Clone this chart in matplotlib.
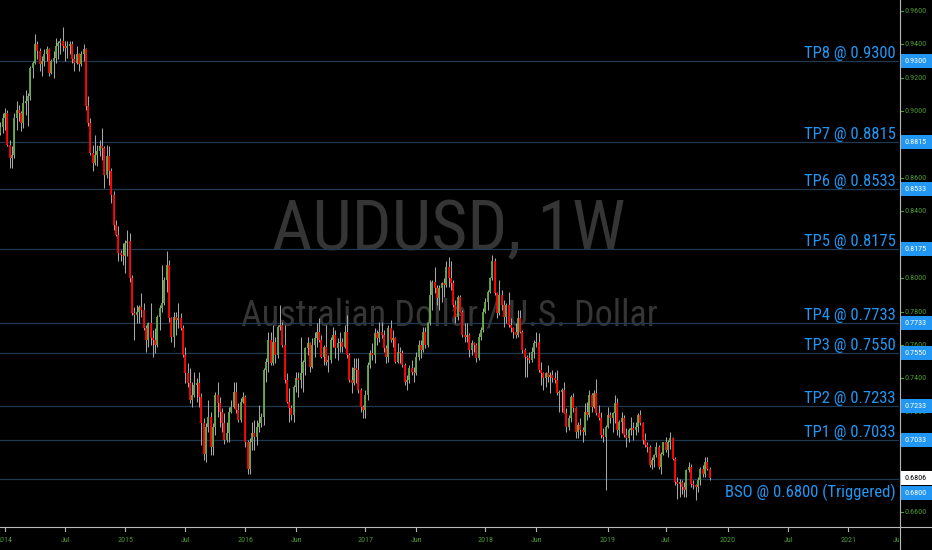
import matplotlib
matplotlib.use("Agg")
import matplotlib.pyplot as plt
import matplotlib.dates as mdates
import matplotlib.transforms as mtransforms
from matplotlib.patches import Rectangle
from matplotlib.lines import Line2D
from matplotlib import font_manager as fm
import numpy as np
import pandas as pd

# ---------------- data (weekly AUDUSD, price x 10000: open, high, low, close) -------------
first_week = "2013-12-16"
aud_2013 = [(8950, 8990, 8820, 8870), (8870, 8935, 8860, 8905), (8905, 8990, 8870, 8960)]
aud_2014 = [
    (8960, 9020, 8890, 8990), (8990, 9005, 8790, 8800), (8800, 8830, 8660, 8720), (8720, 8790, 8660, 8740),
    (8740, 8990, 8720, 8960), (8960, 9060, 8890, 9010), (9010, 9040, 8940, 8990), (8990, 9000, 8880, 8930),
    (8930, 9100, 8900, 9050), (9050, 9130, 8980, 9060), (9060, 9110, 8910, 9090), (9090, 9270, 9070, 9260),
    (9260, 9300, 9200, 9290), (9290, 9460, 9280, 9400), (9400, 9420, 9310, 9360), (9360, 9380, 9240, 9280),
    (9280, 9330, 9210, 9300), (9300, 9370, 9270, 9340), (9340, 9390, 9300, 9370), (9370, 9380, 9210, 9230),
    (9230, 9310, 9220, 9300), (9300, 9360, 9200, 9320), (9320, 9440, 9290, 9390), (9390, 9420, 9310, 9410),
    (9410, 9440, 9340, 9420), (9420, 9505, 9360, 9390), (9390, 9420, 9300, 9380), (9380, 9420, 9320, 9390),
    (9390, 9420, 9340, 9400), (9400, 9420, 9290, 9310), (9310, 9340, 9240, 9290), (9290, 9390, 9280, 9340),
    (9340, 9350, 9240, 9280), (9280, 9360, 9270, 9340), (9340, 9400, 9300, 9370), (9370, 9380, 9010, 9030),
    (9030, 9090, 8910, 8930), (8930, 8960, 8740, 8750), (8750, 8800, 8640, 8690), (8690, 8860, 8680, 8740),
    (8740, 8800, 8670, 8760), (8760, 8830, 8730, 8790), (8790, 8900, 8710, 8780), (8780, 8790, 8540, 8620),
    (8620, 8800, 8600, 8730), (8730, 8790, 8560, 8640), (8640, 8660, 8450, 8500), (8500, 8520, 8290, 8320),
    (8320, 8350, 8250, 8260), (8260, 8310, 8100, 8150), (8150, 8170, 8100, 8140), (8140, 8210, 8080, 8130),
]
aud_2015 = [
    (8130, 8230, 8030, 8210), (8210, 8290, 8130, 8220), (8220, 8270, 7980, 8000), (8000, 8020, 7780, 7790),
    (7790, 7830, 7630, 7780), (7780, 7840, 7730, 7800), (7800, 7840, 7730, 7830), (7830, 7910, 7770, 7810),
    (7810, 7850, 7690, 7700), (7700, 7720, 7560, 7630), (7630, 7740, 7590, 7730), (7730, 7850, 7600, 7640),
    (7640, 7690, 7530, 7630), (7630, 7700, 7550, 7600), (7600, 7780, 7590, 7770), (7770, 7840, 7690, 7820),
    (7820, 8080, 7800, 7850), (7850, 8010, 7840, 7990), (7990, 8160, 7920, 8080), (8080, 8110, 7740, 7760),
    (7760, 7770, 7620, 7650), (7650, 7800, 7590, 7770), (7770, 7800, 7660, 7750), (7750, 7850, 7700, 7760),
    (7760, 7790, 7690, 7700), (7700, 7720, 7530, 7540), (7540, 7590, 7370, 7430), (7430, 7490, 7350, 7370),
    (7370, 7460, 7250, 7270), (7270, 7380, 7230, 7300), (7300, 7440, 7290, 7360), (7360, 7400, 7260, 7370),
    (7370, 7440, 7230, 7290), (7290, 7310, 7000, 7130), (7130, 7160, 6910, 6950), (6950, 7130, 6900, 7110),
    (7110, 7270, 7080, 7170), (7170, 7200, 6940, 6990), (6990, 7130, 6940, 7110), (7110, 7320, 7060, 7300),
    (7300, 7380, 7170, 7250), (7250, 7290, 7110, 7200), (7200, 7220, 7080, 7130), (7130, 7190, 7010, 7030),
    (7030, 7140, 7020, 7070), (7070, 7230, 7020, 7200), (7200, 7270, 7190, 7230), (7230, 7380, 7220, 7320),
    (7320, 7380, 7190, 7210), (7210, 7250, 7140, 7150), (7150, 7280, 7140, 7260), (7260, 7320, 7250, 7290),
]
aud_2016 = [
    (7290, 7300, 6990, 7020), (7020, 7030, 6830, 6860), (6860, 7040, 6830, 7020), (7020, 7140, 6970, 7070),
    (7070, 7150, 6970, 7050), (7050, 7150, 7000, 7110), (7110, 7240, 7080, 7130), (7130, 7190, 7110, 7170),
    (7170, 7460, 7120, 7450), (7450, 7520, 7380, 7500), (7500, 7680, 7440, 7630), (7630, 7680, 7480, 7490),
    (7490, 7720, 7480, 7620), (7620, 7650, 7490, 7540), (7540, 7720, 7520, 7710), (7710, 7840, 7690, 7720),
    (7720, 7740, 7590, 7600), (7600, 7720, 7370, 7390), (7390, 7430, 7250, 7260), (7260, 7340, 7140, 7220),
    (7220, 7240, 7150, 7180), (7180, 7360, 7140, 7350), (7350, 7440, 7320, 7400), (7400, 7440, 7290, 7390),
    (7390, 7650, 7340, 7430), (7430, 7510, 7320, 7500), (7500, 7590, 7420, 7580), (7580, 7650, 7540, 7610),
    (7610, 7620, 7440, 7470), (7470, 7640, 7460, 7600), (7600, 7680, 7530, 7640), (7640, 7730, 7590, 7680),
    (7680, 7760, 7620, 7630), (7630, 7660, 7520, 7530), (7530, 7600, 7480, 7590), (7590, 7720, 7480, 7500),
    (7500, 7540, 7440, 7510), (7510, 7650, 7490, 7630), (7630, 7710, 7590, 7660), (7660, 7690, 7520, 7580),
    (7580, 7640, 7510, 7610), (7610, 7680, 7560, 7620), (7620, 7640, 7560, 7590), (7590, 7720, 7580, 7680),
    (7680, 7780, 7520, 7540), (7540, 7550, 7380, 7390), (7390, 7470, 7310, 7370), (7370, 7520, 7360, 7460),
    (7460, 7520, 7370, 7450), (7450, 7520, 7310, 7330), (7330, 7340, 7200, 7230), (7230, 7240, 7160, 7210),
]
aud_2017 = [
    (7210, 7330, 7160, 7300), (7300, 7500, 7270, 7480), (7480, 7570, 7460, 7550), (7550, 7610, 7510, 7540),
    (7540, 7700, 7490, 7670), (7670, 7690, 7600, 7640), (7640, 7740, 7620, 7680), (7680, 7740, 7640, 7660),
    (7660, 7690, 7560, 7580), (7580, 7600, 7490, 7530), (7530, 7720, 7500, 7700), (7700, 7750, 7620, 7630),
    (7630, 7690, 7590, 7640), (7640, 7650, 7490, 7500), (7500, 7610, 7490, 7560), (7560, 7590, 7490, 7550),
    (7550, 7570, 7470, 7480), (7480, 7490, 7360, 7380), (7380, 7420, 7330, 7390), (7390, 7480, 7370, 7460),
    (7460, 7510, 7420, 7440), (7440, 7470, 7380, 7430), (7430, 7560, 7420, 7530), (7530, 7630, 7510, 7600),
    (7600, 7630, 7520, 7570), (7570, 7710, 7560, 7680), (7680, 7710, 7580, 7600), (7600, 7740, 7590, 7730),
    (7730, 7990, 7720, 7900), (7900, 7990, 7810, 7980), (7980, 8070, 7910, 7940), (7940, 7960, 7840, 7880),
    (7880, 7960, 7810, 7940), (7940, 7980, 7860, 7970), (7970, 8000, 7890, 7960), (7960, 8100, 7950, 8070),
    (8070, 8125, 7950, 8000), (8000, 8100, 7930, 7970), (7970, 7990, 7830, 7840), (7840, 7870, 7730, 7770),
    (7770, 7900, 7750, 7890), (7890, 7900, 7800, 7800), (7800, 7810, 7650, 7660), (7660, 7730, 7620, 7650),
    (7650, 7730, 7620, 7660), (7660, 7670, 7530, 7570), (7570, 7630, 7540, 7610), (7610, 7620, 7560, 7600),
    (7600, 7610, 7500, 7520), (7520, 7670, 7510, 7650), (7650, 7710, 7630, 7690), (7690, 7820, 7680, 7800),
]
aud_2018 = [
    (7800, 7880, 7790, 7860), (7860, 7930, 7810, 7920), (7920, 8010, 7910, 8000), (8000, 8136, 7990, 8100),
    (8100, 8120, 7900, 7910), (7910, 7920, 7760, 7790), (7790, 7990, 7780, 7900), (7900, 7930, 7810, 7840),
    (7840, 7870, 7710, 7770), (7770, 7850, 7730, 7840), (7840, 7920, 7710, 7720), (7720, 7760, 7680, 7700),
    (7700, 7710, 7640, 7680), (7680, 7730, 7640, 7660), (7660, 7810, 7650, 7760), (7760, 7810, 7670, 7680),
    (7680, 7690, 7550, 7570), (7570, 7580, 7410, 7530), (7530, 7540, 7410, 7520), (7520, 7560, 7490, 7510),
    (7510, 7590, 7500, 7560), (7560, 7630, 7520, 7610), (7610, 7680, 7590, 7620), (7620, 7670, 7440, 7450),
    (7450, 7500, 7360, 7430), (7430, 7440, 7330, 7400), (7400, 7440, 7350, 7430), (7430, 7480, 7380, 7410),
    (7410, 7440, 7310, 7420), (7420, 7450, 7380, 7400), (7400, 7440, 7370, 7390), (7390, 7450, 7300, 7310),
    (7310, 7330, 7200, 7320), (7320, 7340, 7200, 7330), (7330, 7380, 7190, 7190), (7190, 7220, 7080, 7110),
    (7110, 7180, 7090, 7160), (7160, 7300, 7140, 7290), (7290, 7310, 7200, 7220), (7220, 7230, 7040, 7080),
    (7080, 7140, 7040, 7120), (7120, 7160, 7060, 7090), (7090, 7110, 7020, 7080), (7080, 7250, 7060, 7200),
    (7200, 7260, 7150, 7180), (7180, 7330, 7170, 7300), (7300, 7310, 7200, 7230), (7230, 7330, 7220, 7310),
    (7310, 7394, 7180, 7190), (7190, 7240, 7150, 7160), (7160, 7200, 7040, 7060), (7060, 7100, 7020, 7050),
    (7050, 7120, 6730, 7110),
]
aud_2019 = [
    (7110, 7230, 7100, 7180), (7180, 7200, 7130, 7160), (7160, 7200, 7080, 7190), (7190, 7300, 7130, 7250),
    (7250, 7280, 7060, 7090), (7090, 7150, 7050, 7140), (7140, 7200, 7070, 7160), (7160, 7180, 7050, 7060),
    (7060, 7100, 6990, 7040), (7040, 7100, 7020, 7090), (7090, 7170, 7060, 7100), (7100, 7140, 7030, 7090),
    (7090, 7140, 7060, 7110), (7110, 7190, 7080, 7180), (7180, 7210, 7120, 7130), (7130, 7140, 7010, 7030),
    (7030, 7070, 6990, 7000), (7000, 7020, 6960, 6990), (6990, 7000, 6870, 6880), (6880, 6930, 6860, 6910),
    (6910, 6950, 6870, 6940), (6940, 7020, 6930, 6990), (6990, 7000, 6860, 6870), (6870, 6960, 6830, 6950),
    (6950, 7020, 6940, 7020), (7020, 7050, 6960, 6970), (6970, 7030, 6930, 7020), (7020, 7080, 6980, 7040),
    (7040, 7050, 6910, 6920), (6920, 6930, 6760, 6780), (6780, 6810, 6680, 6770), (6770, 6800, 6690, 6780),
    (6780, 6790, 6710, 6750), (6750, 6780, 6690, 6730), (6730, 6860, 6690, 6850), (6850, 6900, 6840, 6870),
    (6870, 6890, 6750, 6770), (6770, 6790, 6740, 6760), (6760, 6770, 6670, 6750), (6750, 6810, 6720, 6790),
    (6790, 6870, 6760, 6860), (6860, 6880, 6810, 6830), (6830, 6930, 6810, 6900), (6900, 6930, 6850, 6860),
    (6860, 6870, 6790, 6806),
]

level_names = ["TP8", "TP7", "TP6", "TP5", "TP4", "TP3", "TP2", "TP1", "BSO"]
level_values = [0.9300, 0.8815, 0.8533, 0.8175, 0.7733, 0.7550, 0.7233, 0.7033, 0.6800]
level_notes = ["", "", "", "", "", "", "", "", " (Triggered)"]
last_price = 0.6806
price_ticks = [0.66, 0.68, 0.70, 0.72, 0.74, 0.76, 0.78, 0.80, 0.82, 0.84, 0.86, 0.88, 0.90, 0.92, 0.94, 0.96]
time_tick_dates = ["2014-01-06", "2014-07-07", "2015-01-05", "2015-07-06", "2016-01-04", "2016-06-06",
                   "2017-01-02", "2017-06-05", "2018-01-01", "2018-06-04", "2019-01-07", "2019-07-01",
                   "2020-01-06", "2020-07-06", "2021-01-04", "2021-06-07"]
time_tick_labels = ["2014", "Jul", "2015", "Jul", "2016", "Jun", "2017", "Jun", "2018", "Jun", "2019", "Jul",
                    "2020", "Jul", "2021", "Jun"]
title_text = "AUDUSD, 1W"
subtitle_text = "Australian Dollar / U.S. Dollar"

# ---------------- style ----------------
W, H = 932, 550
BG = "black"
UP = "#66a84a"
DOWN = "#ff0000"
WICK = "#a6a6a6"
LEVEL_LINE = "#1d3a52"
BLUE = "#2196f3"
AXIS_TXT = "#4f9a35"
AXIS_LINE = "#b8b8b8"
WATERMARK = "#353535"

names = {f.name for f in fm.fontManager.ttflist}
FONT = next((n for n in ["Roboto Condensed", "Liberation Sans Narrow", "Arial Narrow", "Archivo Narrow"]
             if n in names), "Liberation Sans")
plt.rcParams["font.family"] = [FONT, "DejaVu Sans"]

fig = plt.figure(figsize=(W / 100, H / 100), dpi=100, facecolor=BG)
ax = fig.add_axes([0, 23 / H, 899 / W, 527 / H])
ax.set_facecolor(BG)
for s in ax.spines.values():
    s.set_visible(False)
ax.set_xticks([])
ax.set_yticks([])

rows = aud_2013 + aud_2014 + aud_2015 + aud_2016 + aud_2017 + aud_2018 + aud_2019
o, h, l, c = (np.array(col, dtype=float) / 1e4 for col in zip(*rows))
weeks = pd.date_range(first_week, periods=len(rows), freq="7D")
x = mdates.date2num(weeks.to_pydatetime())

ax.set_xlim(mdates.date2num(pd.Timestamp("2013-12-21 20:00")), mdates.date2num(pd.Timestamp("2021-06-07")))
ax.set_ylim(0.6510, 0.9666)

up = c >= o
ax.vlines(x, np.minimum(l, np.minimum(o, c)), np.maximum(h, np.maximum(o, c)), color=WICK, lw=0.75, zorder=3)
ax.vlines(x[up], o[up], c[up], color=UP, lw=1.35, zorder=4)
ax.vlines(x[~up], c[~up], o[~up], color=DOWN, lw=1.35, zorder=4)

# watermark
wm1 = ax.text(449 / W, 1 - 250 / H, title_text, transform=fig.transFigure, ha="center", va="baseline",
              color=WATERMARK, fontsize=48, zorder=1, clip_on=False)
wm2 = ax.text(449 / W, 1 - 325 / H, subtitle_text, transform=fig.transFigure, ha="center", va="baseline",
              color=WATERMARK, fontsize=28, zorder=1, clip_on=False)

# level lines and labels
trans_r = mtransforms.blended_transform_factory(fig.transFigure, ax.transData)
lvl_texts = []
for name, val, note in zip(level_names, level_values, level_notes):
    ax.axhline(val, color=LEVEL_LINE, lw=0.9, zorder=2)
    if note:
        tr = mtransforms.offset_copy(trans_r, fig=fig, y=-19, units="dots")
    else:
        tr = mtransforms.offset_copy(trans_r, fig=fig, y=3, units="dots")
    t = fig.text(896 / W, val, f"{name} @ {val:.4f}{note}", transform=tr, ha="right", va="baseline",
                 color=BLUE, fontsize=12.5, zorder=6)
    lvl_texts.append(t)

# right price panel
fig.add_artist(Rectangle((899 / W, 0), 33 / W, 1, transform=fig.transFigure, facecolor=BG,
                         edgecolor="none", zorder=5))

ylo, yhi = ax.get_ylim()
px_per_unit = 527.0 / (yhi - ylo)
box_h = 14 / px_per_unit
covered = level_values + [last_price]

tick_texts = []
for p in price_ticks:
    fig.add_artist(Line2D([900 / W, 903 / W], [p, p], transform=trans_r, color=AXIS_TXT, lw=0.8, zorder=6))
    # labels sitting fully under a price box are hidden in the reference
    if min(abs(p - v) for v in covered) * px_per_unit < 3:
        continue
    tick_texts.append(fig.text(916 / W, p, f"{p:.4f}", transform=trans_r, ha="center", va="center",
                               color=AXIS_TXT, fontsize=6.5, zorder=6))

box_texts = []


def price_box(val, face, txtcolor, shift_px=0):
    centre = val - shift_px / px_per_unit
    fig.add_artist(Rectangle((899.5 / W, centre - box_h / 2), 32.5 / W, box_h, transform=trans_r,
                             facecolor=face, edgecolor="none", zorder=7))
    box_texts.append(fig.text(916 / W, centre, f"{val:.4f}", transform=trans_r, ha="center", va="center",
                              color=txtcolor, fontsize=6.5, zorder=8))


for val in level_values:
    shift = 14 if abs(val - last_price) * px_per_unit < 14 else 0
    price_box(val, BLUE, "white", shift)
price_box(last_price, "white", "black")

# time axis
trans_b = mtransforms.blended_transform_factory(ax.transData, fig.transFigure)
time_texts = []
for d, lab in zip(time_tick_dates, time_tick_labels):
    xd = mdates.date2num(pd.Timestamp(d))
    fig.add_artist(Line2D([xd, xd], [1 - 527 / H, 1 - 531 / H], transform=trans_b, color=AXIS_LINE,
                          lw=0.8, zorder=4))
    time_texts.append(fig.text(xd, 1 - 540 / H, lab, transform=trans_b, ha="center", va="center",
                               color=AXIS_TXT, fontsize=7, zorder=4))

# axis lines
fig.add_artist(Line2D([899.5 / W, 899.5 / W], [0, 1], transform=fig.transFigure, color=AXIS_LINE, lw=0.8, zorder=9))
fig.add_artist(Line2D([0, 1], [1 - 527 / H, 1 - 527 / H], transform=fig.transFigure, color=AXIS_LINE, lw=0.8, zorder=9))

# fit font sizes to the text widths measured in the reference
fig.canvas.draw()
r = fig.canvas.get_renderer()


def fit(texts, sample, target_px):
    w = sample.get_window_extent(r).width
    k = target_px / w
    for t in texts:
        t.set_fontsize(t.get_fontsize() * k)


fit([wm1], wm1, 353)
fit([wm2], wm2, 417)
fit(lvl_texts, lvl_texts[6], 92)
fit(tick_texts, tick_texts[0], 22)
fit(box_texts, box_texts[0], 22)
fit(time_texts, time_texts[2], 16)

fig.savefig("out.png", dpi=100, facecolor=BG)
